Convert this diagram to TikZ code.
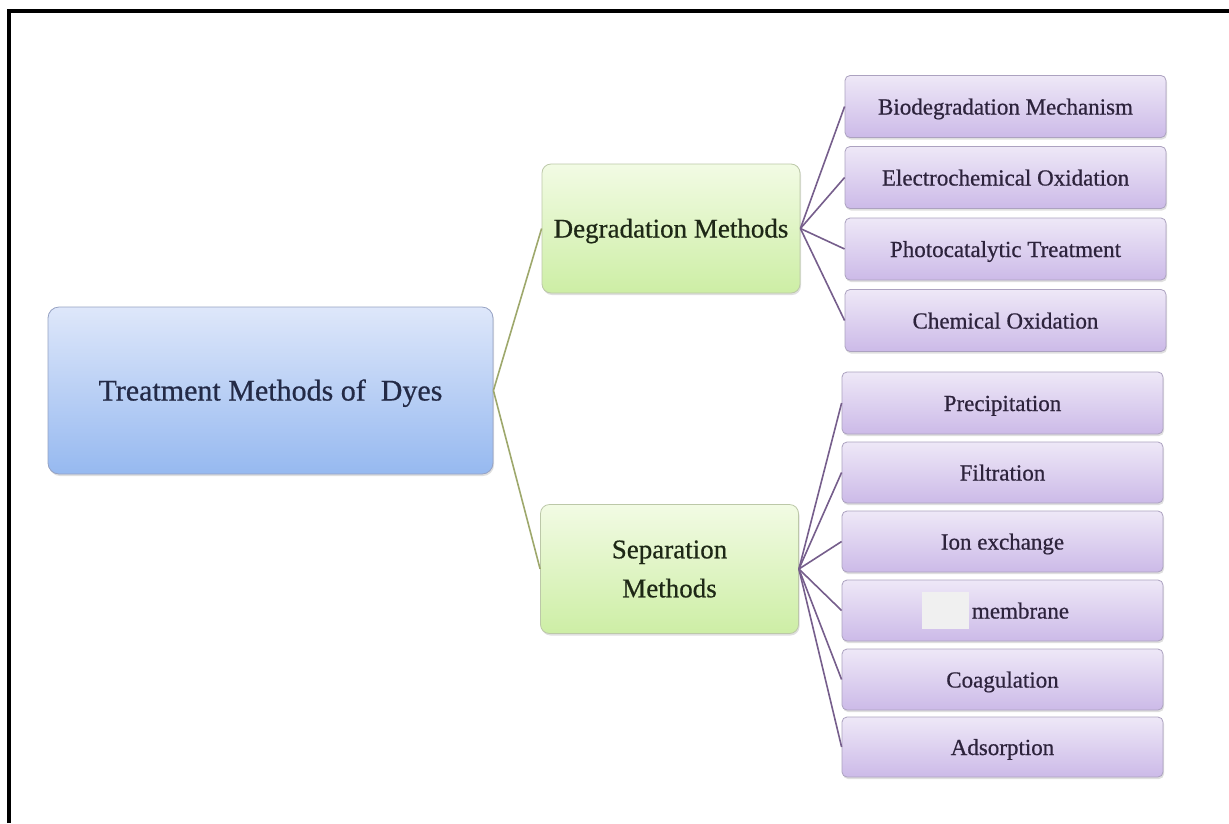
\documentclass[tikz,border=0pt]{standalone}
\usepackage{fontspec}
\setmainfont[FakeBold=0.6]{Liberation Serif}
\usetikzlibrary{shadows}
\definecolor{rootTop}{RGB}{222,231,250}
\definecolor{rootBot}{RGB}{150,185,240}
\definecolor{rootLine}{RGB}{150,162,195}
\definecolor{rootText}{RGB}{35,42,70}
\definecolor{midTop}{RGB}{242,251,228}
\definecolor{midBot}{RGB}{205,238,165}
\definecolor{midLine}{RGB}{188,200,168}
\definecolor{midText}{RGB}{30,40,22}
\definecolor{leafTop}{RGB}{238,232,247}
\definecolor{leafBot}{RGB}{204,186,232}
\definecolor{leafLine}{RGB}{172,162,192}
\definecolor{leafText}{RGB}{45,35,60}
\definecolor{greenLink}{RGB}{158,168,108}
\definecolor{purpleLink}{RGB}{118,94,140}
\definecolor{coverGray}{RGB}{240,240,240}
\tikzset{
  rootbox/.style={draw=rootLine, line width=0.8pt, rounded corners=11pt,
    top color=rootTop, bottom color=rootBot,
    drop shadow={shadow xshift=1pt, shadow yshift=-2pt, opacity=0.25},
    minimum width=445pt, minimum height=167pt, inner sep=0pt,
    font=\fontsize{30}{36}\selectfont, text=rootText, text height=20pt, text depth=0pt},
  midbox/.style={draw=midLine, line width=0.8pt, rounded corners=9pt,
    top color=midTop, bottom color=midBot,
    drop shadow={shadow xshift=1pt, shadow yshift=-2pt, opacity=0.25},
    minimum width=258pt, minimum height=129pt, inner sep=0pt,
    font=\fontsize{27}{39}\selectfont, text=midText, align=center},
  leafbox/.style={draw=leafLine, line width=0.8pt, rounded corners=5pt,
    top color=leafTop, bottom color=leafBot,
    drop shadow={shadow xshift=1pt, shadow yshift=-2pt, opacity=0.25},
    minimum width=321pt, minimum height=62pt, inner sep=0pt,
    font=\fontsize{23}{27}\selectfont, text=leafText, text height=16pt, text depth=0pt},
  glink/.style={draw=greenLink, line width=1.6pt},
  plink/.style={draw=purpleLink, line width=1.6pt},
  framerule/.style={draw=black, line width=4pt}
}
\begin{document}
\begin{tikzpicture}[x=1pt,y=-1pt]
\useasboundingbox[fill=white] (0,0) rectangle (1229,823);
\coordinate (fA) at (8.7,823);
\coordinate (fB) at (8.7,11);
\coordinate (fC) at (1229,11);
\draw[framerule] (fA) -- (fB) -- (fC);

% root and middle nodes
\node[rootbox] (root) at (270.5,390.5) {Treatment Methods of\ \ Dyes};
\node[midbox, text height=18pt, text depth=0pt] (deg) at (671,228.5) {Degradation Methods};
\node[midbox] (sep) at (669.5,569) {Separation\\Methods};

% degradation children
\node[leafbox] (d1) at (1005.5,106.5) {Biodegradation Mechanism};
\node[leafbox] (d2) at (1005.5,177.5) {Electrochemical Oxidation};
\node[leafbox] (d3) at (1005.5,249) {Photocatalytic Treatment};
\node[leafbox] (d4) at (1005.5,320.5) {Chemical Oxidation};

% separation children
\node[leafbox] (s1) at (1002.5,403) {Precipitation};
\node[leafbox, minimum height=61pt] (s2) at (1002.5,472.5) {Filtration};
\node[leafbox, minimum height=61pt] (s3) at (1002.5,541.5) {Ion exchange};
\node[leafbox, minimum height=61pt] (s4) at (1002.5,610.5) {\textcolor{coverGray}{\rule[-10pt]{47pt}{37pt}}\kern3pt membrane\kern14pt\relax};
\node[leafbox, minimum height=61pt] (s5) at (1002.5,679.5) {Coagulation};
\node[leafbox, minimum height=60pt] (s6) at (1002.5,747) {Adsorption};

% connectors
\draw[glink] (root.east) -- (deg.west);
\draw[glink] (root.east) -- (sep.west);
\foreach \c in {d1,d2,d3,d4} { \draw[plink] (deg.east) -- (\c.west); }
\foreach \c in {s1,s2,s3,s4,s5,s6} { \draw[plink] (sep.east) -- (\c.west); }
\end{tikzpicture}
\end{document}
